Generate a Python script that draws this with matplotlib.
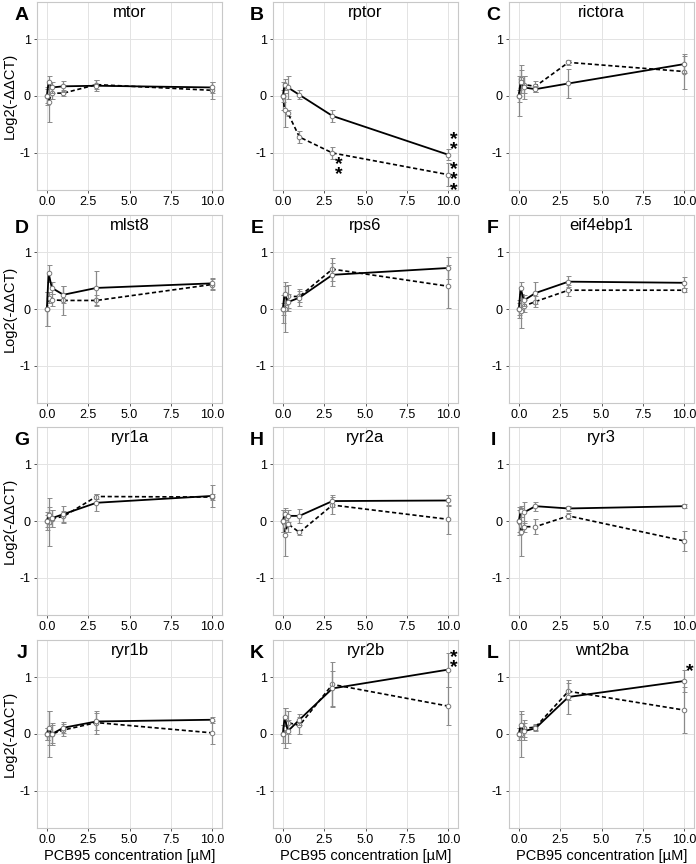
import matplotlib
matplotlib.use("Agg")
import matplotlib.pyplot as plt
import numpy as np

plt.rcParams["font.family"] = ["Liberation Sans", "DejaVu Sans"]

# PCB95 concentrations (uM)
conc = [0, 0.1, 0.3, 1, 3, 10]

genes = ["mtor", "rptor", "rictora", "mlst8", "rps6", "eif4ebp1",
         "ryr1a", "ryr2a", "ryr3", "ryr1b", "ryr2b", "wnt2ba"]
letters = ["A", "B", "C", "D", "E", "F", "G", "H", "I", "J", "K", "L"]

# solid series: mean and error
solid_mean = {
    "mtor":     [0, 0.25, 0.15, 0.17, 0.18, 0.15],
    "rptor":    [0, 0.20, 0.15, 0.02, -0.35, -1.03],
    "rictora":  [0, 0.25, 0.15, 0.12, 0.22, 0.56],
    "mlst8":    [0, 0.63, 0.37, 0.25, 0.37, 0.45],
    "rps6":     [0, 0.27, 0.12, 0.20, 0.60, 0.72],
    "eif4ebp1": [0, 0.37, 0.15, 0.28, 0.48, 0.46],
    "ryr1a":    [0, 0.10, 0.05, 0.12, 0.32, 0.44],
    "ryr2a":    [0, 0.12, 0.09, 0.09, 0.35, 0.36],
    "ryr3":     [0, 0.17, 0.15, 0.26, 0.22, 0.26],
    "ryr1b":    [0, 0.10, 0.00, 0.11, 0.22, 0.25],
    "ryr2b":    [0, 0.30, 0.05, 0.25, 0.80, 1.13],
    "wnt2ba":   [0, 0.15, 0.05, 0.10, 0.65, 0.93],
}
solid_err = {
    "mtor":     [0.15, 0.10, 0.10, 0.10, 0.10, 0.10],
    "rptor":    [0.10, 0.10, 0.20, 0.08, 0.10, 0.10],
    "rictora":  [0.35, 0.20, 0.20, 0.05, 0.25, 0.15],
    "mlst8":    [0.30, 0.15, 0.10, 0.15, 0.30, 0.10],
    "rps6":     [0.25, 0.20, 0.15, 0.15, 0.20, 0.20],
    "eif4ebp1": [0.15, 0.10, 0.10, 0.20, 0.10, 0.10],
    "ryr1a":    [0.15, 0.15, 0.15, 0.15, 0.15, 0.20],
    "ryr2a":    [0.20, 0.10, 0.10, 0.12, 0.10, 0.10],
    "ryr3":     [0.25, 0.10, 0.18, 0.08, 0.05, 0.03],
    "ryr1b":    [0.10, 0.30, 0.20, 0.10, 0.15, 0.05],
    "ryr2b":    [0.15, 0.15, 0.20, 0.10, 0.30, 0.30],
    "wnt2ba":   [0.10, 0.20, 0.15, 0.05, 0.30, 0.20],
}
# dashed series: mean and error
dashed_mean = {
    "mtor":     [0, -0.10, 0.05, 0.05, 0.20, 0.10],
    "rptor":    [0, -0.25, -0.30, -0.72, -1.00, -1.38],
    "rictora":  [0, 0.30, 0.20, 0.17, 0.59, 0.43],
    "mlst8":    [0, 0.20, 0.16, 0.15, 0.15, 0.43],
    "rps6":     [0, 0.00, 0.22, 0.22, 0.70, 0.40],
    "eif4ebp1": [0, -0.03, 0.05, 0.13, 0.33, 0.33],
    "ryr1a":    [0, -0.02, 0.04, 0.08, 0.43, 0.42],
    "ryr2a":    [0, -0.25, -0.05, -0.20, 0.28, 0.03],
    "ryr3":     [0, -0.20, -0.10, -0.10, 0.09, -0.35],
    "ryr1b":    [0, 0.00, 0.00, 0.07, 0.20, 0.02],
    "ryr2b":    [0, 0.10, 0.20, 0.15, 0.87, 0.49],
    "wnt2ba":   [0, 0.00, 0.10, 0.12, 0.75, 0.42],
}
dashed_err = {
    "mtor":     [0.12, 0.35, 0.10, 0.05, 0.08, 0.15],
    "rptor":    [0.25, 0.30, 0.05, 0.10, 0.10, 0.20],
    "rictora":  [0.10, 0.25, 0.15, 0.10, 0.05, 0.30],
    "mlst8":    [0.30, 0.10, 0.10, 0.25, 0.10, 0.10],
    "rps6":     [0.10, 0.40, 0.20, 0.10, 0.20, 0.38],
    "eif4ebp1": [0.10, 0.30, 0.10, 0.10, 0.10, 0.03],
    "ryr1a":    [0.10, 0.42, 0.15, 0.10, 0.05, 0.05],
    "ryr2a":    [0.20, 0.37, 0.15, 0.05, 0.15, 0.25],
    "ryr3":     [0.20, 0.42, 0.10, 0.13, 0.05, 0.18],
    "ryr1b":    [0.10, 0.40, 0.15, 0.10, 0.20, 0.20],
    "ryr2b":    [0.15, 0.35, 0.20, 0.15, 0.40, 0.33],
    "wnt2ba":   [0.10, 0.40, 0.15, 0.05, 0.15, 0.40],
}
# significance marks: gene -> list of (x, y, marks)
stars = {
    "rptor": [(3.38, -1.24, "*\n*"), (10.32, -0.80, "*\n*"), (10.32, -1.42, "*\n*\n*")],
    "ryr2b": [(10.32, 1.30, "*\n*")],
    "wnt2ba": [(10.32, 1.15, "*")],
}

W, H = 696, 864
fig = plt.figure(figsize=(W / 100, H / 100), dpi=100)

col_left = [37, 273, 509]
row_top = [2, 215, 427, 640]
aw, ah = 185, 188

for i, g in enumerate(genes):
    r, c = divmod(i, 3)
    ax = fig.add_axes([col_left[c] / W, 1 - (row_top[r] + ah) / H, aw / W, ah / H])
    ax.set_facecolor("white")
    for s in ax.spines.values():
        s.set_color("#c8c8c8")
        s.set_linewidth(0.8)
    ax.grid(True, color="#e3e3e3", linewidth=0.7)
    ax.set_axisbelow(True)

    eb = ax.errorbar(conc, dashed_mean[g], yerr=dashed_err[g], color="black", ls="--",
                     lw=1.2, ecolor="#8a8a8a", elinewidth=0.9, capsize=1.8, capthick=0.8,
                     marker="o", ms=3.3, mfc="white", mec="#777777", mew=0.7, zorder=3)
    eb.lines[0].set_dashes([2.5, 1.6])
    ax.errorbar(conc, solid_mean[g], yerr=solid_err[g], color="black", ls="-",
                lw=1.3, ecolor="#8a8a8a", elinewidth=0.9, capsize=1.8, capthick=0.8,
                marker="o", ms=3.3, mfc="white", mec="#777777", mew=0.7, zorder=4)

    for (sx, sy, st) in stars.get(g, []):
        ax.text(sx, sy - 0.05, st, ha="center", va="center", fontsize=14,
                fontweight="bold", linespacing=0.5, clip_on=False)

    ax.set_xlim(-0.6, 10.6)
    ax.set_ylim(-1.65, 1.65)
    ax.set_xticks([0, 2.5, 5, 7.5, 10])
    ax.set_xticklabels(["0.0", "2.5", "5.0", "7.5", "10.0"])
    ax.set_yticks([-1, 0, 1])
    ax.set_yticklabels(["-1", "0", "1"])
    ax.tick_params(labelsize=9, color="#555555", length=2.5, width=0.7, pad=2)

    ax.text(0.5, 0.985, g, transform=ax.transAxes, ha="center", va="top", fontsize=12)
    ax.text(-15 / aw if c == 0 else -16 / aw, 0.93, letters[i], transform=ax.transAxes,
            ha="center", va="center", fontsize=14, fontweight="bold")

    if c == 0:
        ax.set_ylabel("Log2(-ΔΔCT)", fontsize=10.5, labelpad=2)
    if r == 3:
        ax.set_xlabel("PCB95 concentration [µM]", fontsize=10.5, labelpad=2)

fig.savefig("out.png", dpi=100)
